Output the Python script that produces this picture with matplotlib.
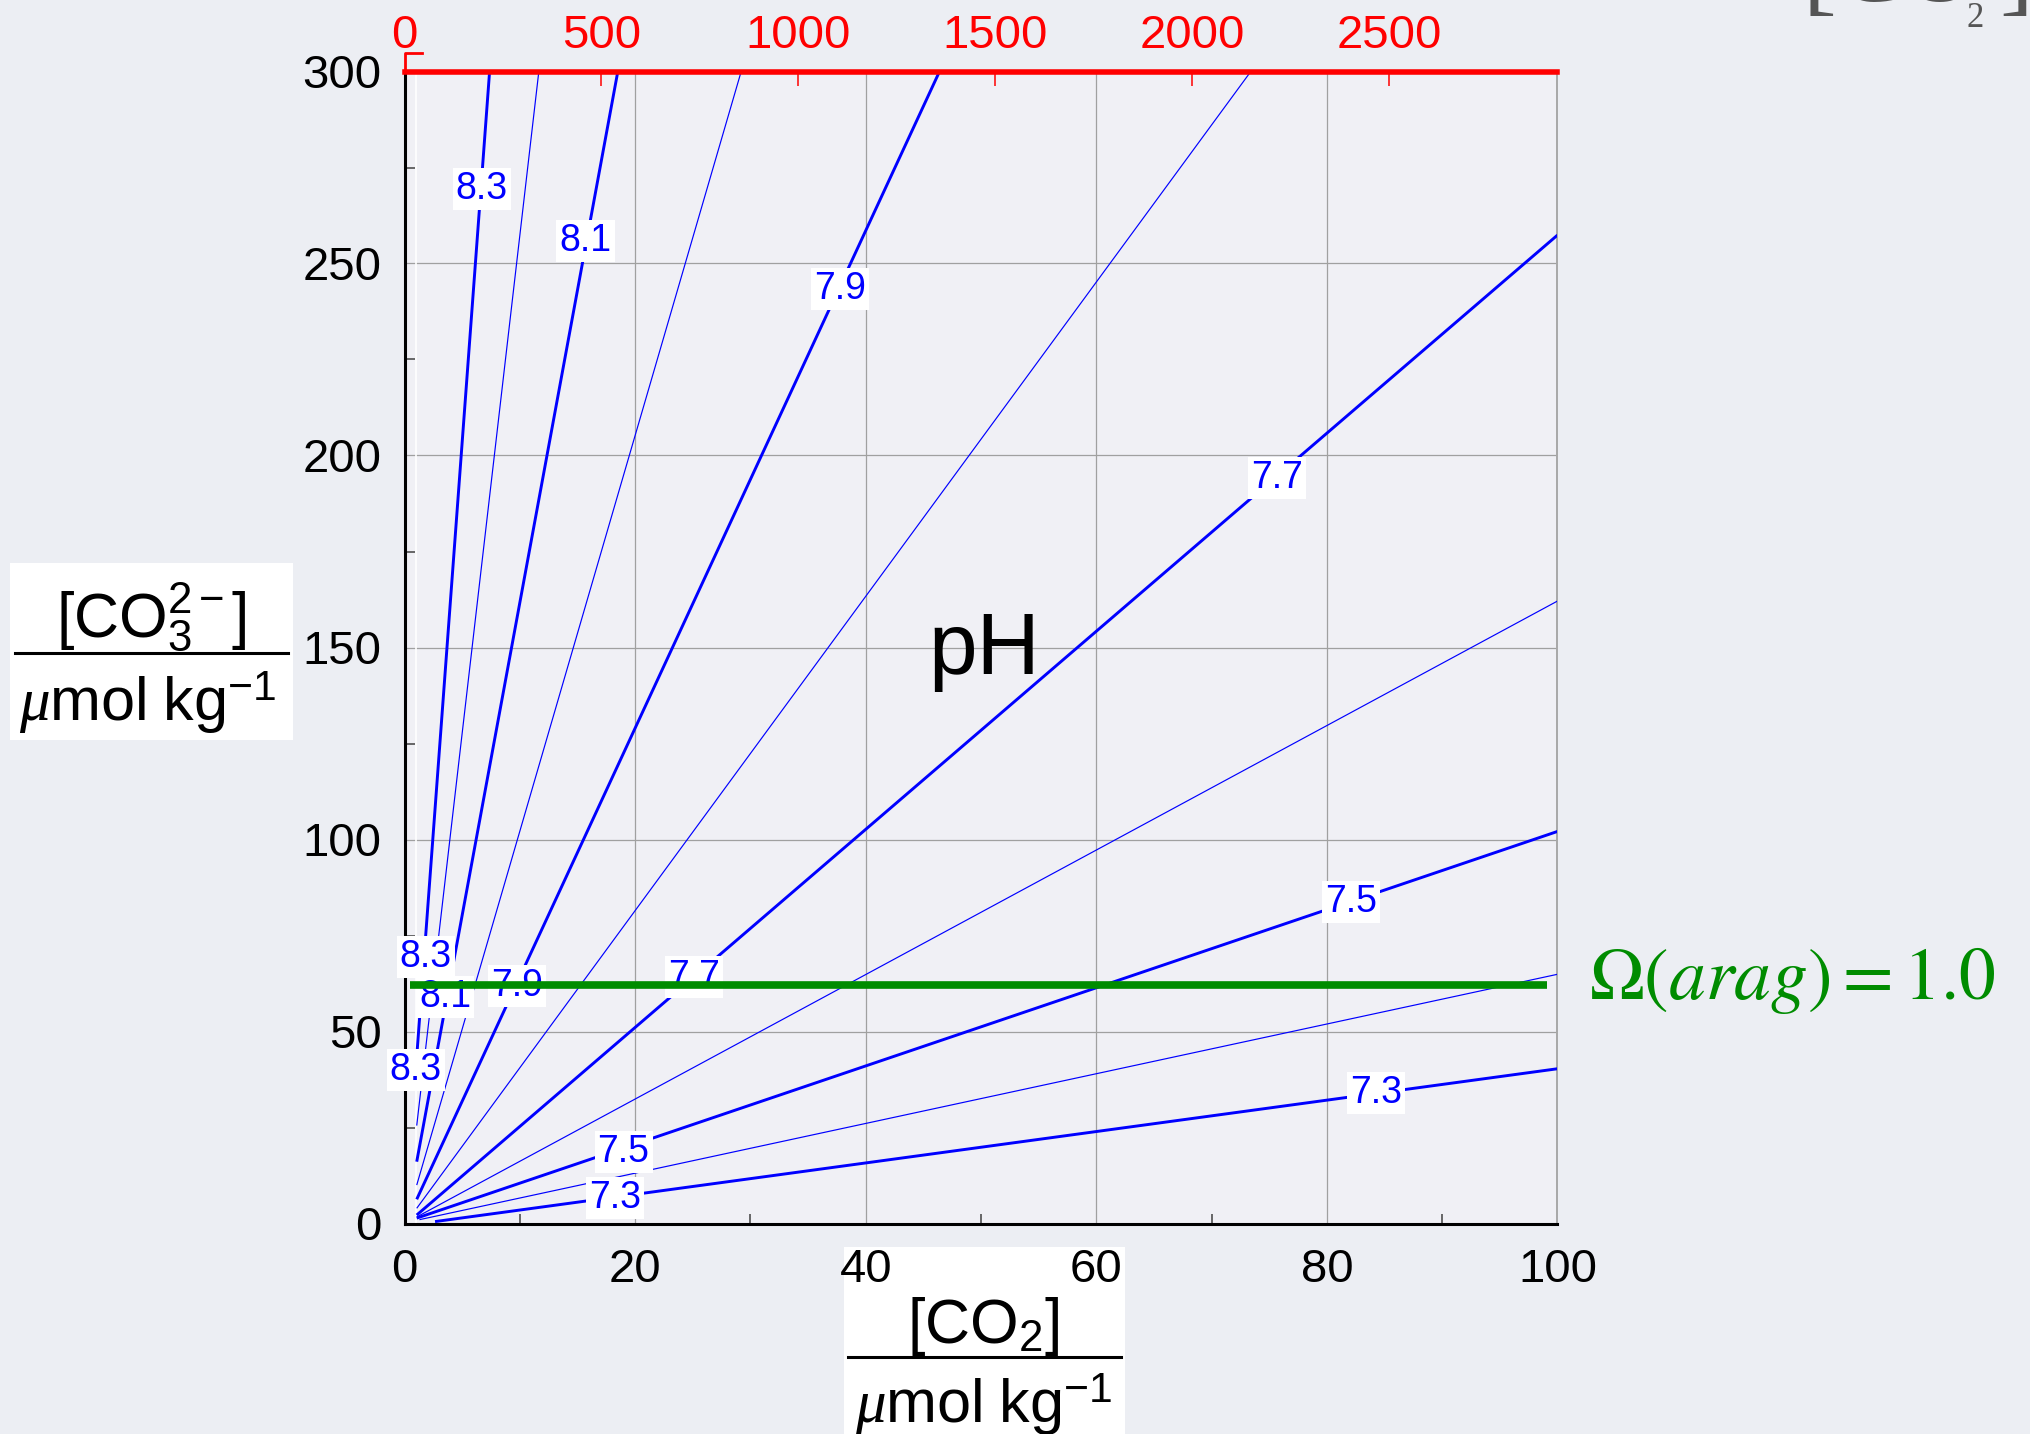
import matplotlib.pyplot as plt
from matplotlib.patches import Rectangle
from matplotlib.lines import Line2D
from matplotlib.ticker import AutoMinorLocator

# pH isolines: where each one starts (lower left) and
# where it leaves the frame (top edge or right edge), in umol/kg
ph_levels = [8.3, 8.2, 8.1, 8.0, 7.9, 7.8, 7.7, 7.6, 7.5, 7.4, 7.3]
co2_start = [1.0, 1.06, 1.06, 1.06, 1.06, 1.06, 1.06, 1.06, 1.06, 1.3, 2.65]
co3_start = [41.0, 25.5, 16.1, 10.0, 6.3, 3.96, 2.2, 1.7, 1.4, 1.0, 0.5]
co2_end = [7.38, 11.65, 18.5, 29.2, 46.4, 73.4, 100, 100, 100, 100, 100]
co3_end = [300, 300, 300, 300, 300, 300, 257.4, 162.1, 102.1, 64.9, 40.3]

# contour labels
label_text = ["8.3", "8.1", "7.9", "7.7", "7.5", "7.3",
              "8.3", "8.1", "7.9", "7.7", "7.5", "7.3", "8.3"]
label_co2 = [6.7, 15.7, 37.8, 75.7, 82.1, 84.3,
             1.84, 3.51, 9.73, 25.1, 19.0, 18.3, 0.97]
label_co3 = [269.3, 255.9, 243.4, 194.2, 83.8, 33.9,
             69.5, 59.1, 61.8, 64.3, 18.7, 6.6, 40.0]

# aragonite saturation horizon
omega_co3 = 62.2
omega_co2 = [0.5, 99.1]

grid_start_co2 = 1.0  # contour grid starts here (thin white line)

x_ticks = [0, 20, 40, 60, 80, 100]
y_ticks = [0, 50, 100, 150, 200, 250, 300]
pco2_ticks = [0, 500, 1000, 1500, 2000, 2500]
pco2_per_co2 = 29.28  # top axis: 100 umol/kg ~ 2928

W, H = 2030, 1434


def fx(px):
    return px / W


def fy(py):
    return 1 - py / H


plt.rcParams['font.family'] = ['Liberation Sans', 'DejaVu Sans']
plt.rcParams['mathtext.rm'] = 'Liberation Sans'
plt.rcParams['mathtext.it'] = 'Liberation Serif:italic'
plt.rcParams['mathtext.bf'] = 'Liberation Sans:bold'

fig = plt.figure(figsize=(W / 100, H / 100), dpi=100, facecolor='#ECEEF3')
ax = fig.add_axes([fx(404.5), fy(1223.5), fx(1153), 1152 / H], facecolor='#F0F0F5')

ax.axvline(grid_start_co2, color='white', lw=1.2, zorder=1)

for ph, x0, y0, x1, y1 in zip(ph_levels, co2_start, co3_start, co2_end, co3_end):
    thick = round(ph * 10) % 2 == 1
    ax.plot([x0, x1], [y0, y1], color='#0000FF', lw=2.1 if thick else 0.85,
            solid_capstyle='butt', zorder=3)

for txt, x, y in zip(label_text, label_co2, label_co3):
    ax.text(x, y, txt, color='#0000FF', fontsize=27, ha='center', va='center',
            zorder=4, clip_on=False,
            bbox=dict(boxstyle='square,pad=0.08', fc='white', ec='none'))

ax.plot(omega_co2, [omega_co3, omega_co3], color='#008C00', lw=5.5,
        solid_capstyle='butt', zorder=5, clip_on=False)
ax.text(102.7, omega_co3 + 1.2, r'$\Omega(arag)=1.0$', color='#008C00',
        fontsize=53, ha='left', va='center', math_fontfamily='stix', clip_on=False)

ax.text(50.25, 149, 'pH', fontsize=63, ha='center', va='center', zorder=4)

ax.set_xlim(0, 100)
ax.set_ylim(0, 300)
ax.set_xticks(x_ticks)
ax.set_yticks(y_ticks)
ax.xaxis.set_minor_locator(AutoMinorLocator(2))
ax.yaxis.set_minor_locator(AutoMinorLocator(2))
ax.grid(True, which='major', color='#A0A0A0', lw=0.9)
ax.set_axisbelow(True)
ax.tick_params(which='major', length=0, labelsize=34)
ax.tick_params(axis='x', which='major', pad=18)
ax.tick_params(axis='y', which='major', pad=16.5)
ax.tick_params(which='minor', direction='in', length=7, width=1.1, color='#404040')
ax.spines['left'].set_linewidth(2.2)
ax.spines['bottom'].set_linewidth(2.2)
ax.spines['right'].set_color('#A8A8A8')
ax.spines['right'].set_linewidth(1.4)
ax.spines['top'].set_color('red')
ax.spines['top'].set_linewidth(4)
ax.spines['top'].set_zorder(6)

sec = ax.secondary_xaxis('top', functions=(lambda c: c * pco2_per_co2,
                                           lambda p: p / pco2_per_co2))
sec.set_xticks(pco2_ticks)
sec.tick_params(direction='in', length=11, width=1.1, color='red',
                labelcolor='red', labelsize=34, pad=10)
sec.spines['top'].set_visible(False)

# small red corner mark at the origin of the top axis
fig.add_artist(Line2D([fx(405), fx(405), fx(422)], [fy(72), fy(53), fy(53)],
                      color='red', lw=2, transform=fig.transFigure))

# y axis label as a fraction on a white box
fig.add_artist(Rectangle((fx(10), fy(740)), fx(283), 177 / H, transform=fig.transFigure,
                         fc='white', ec='none', zorder=-1))
fig.text(fx(151), fy(637), r'$\mathrm{[CO}_3^{2-}\mathrm{]}$', fontsize=45,
         ha='center', va='baseline', math_fontfamily='custom')
fig.add_artist(Line2D([fx(15), fx(288)], [fy(653.5), fy(653.5)], color='black',
                      lw=2.2, transform=fig.transFigure))
fig.text(fx(148), fy(720), r'$\mu\mathrm{mol\ kg}^{-1}$', fontsize=44,
         ha='center', va='baseline', math_fontfamily='custom')

# x axis label
fig.add_artist(Rectangle((fx(844), 0), fx(281), fy(1247), transform=fig.transFigure,
                         fc='white', ec='none', zorder=-1))
fig.text(fx(983.5), fy(1343), r'$\mathrm{[CO}_2\mathrm{]}$', fontsize=45,
         ha='center', va='baseline', math_fontfamily='custom')
fig.add_artist(Line2D([fx(848), fx(1121)], [fy(1357), fy(1357)], color='black',
                      lw=2.2, transform=fig.transFigure))
fig.text(fx(983.5), fy(1422), r'$\mu\mathrm{mol\ kg}^{-1}$', fontsize=44,
         ha='center', va='baseline', math_fontfamily='custom')

# slide heading cut off at the top right
fig.text(fx(1803), fy(2), '[CO', family='Liberation Serif', fontsize=73,
         color='#555555', va='baseline')
fig.text(fx(1966), fy(27), '2', family='Liberation Serif', fontsize=25,
         color='#555555', va='baseline')
fig.text(fx(1999), fy(2), ']', family='Liberation Serif', fontsize=73,
         color='#555555', va='baseline')

fig.savefig('out.png', dpi=100, facecolor=fig.get_facecolor())
